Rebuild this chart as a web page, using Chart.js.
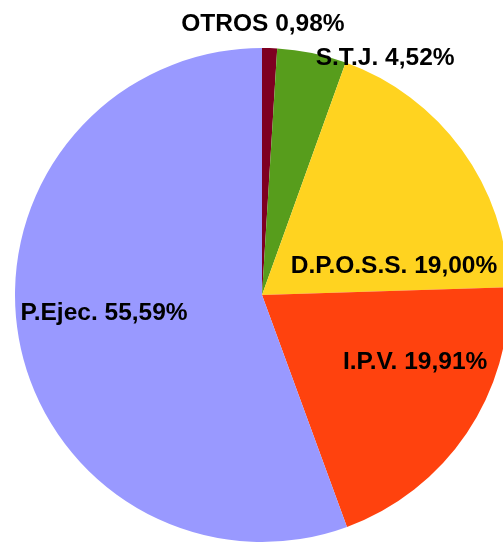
<!DOCTYPE html>
<html>
<head>
<meta charset="utf-8">
<script src="https://cdn.jsdelivr.net/npm/chart.js@4/dist/chart.umd.min.js"></script>
<style>
  html, body { margin: 0; padding: 0; background: #fff; overflow: hidden; }
  #wrap { width: 510px; height: 543px; }
</style>
</head>
<body>
<div id="wrap"><canvas id="pie"></canvas></div>
<script>
// values, clockwise from 12 o'clock
const labels = ['OTROS', 'S.T.J.', 'D.P.O.S.S.', 'I.P.V.', 'P.Ejec.'];
const shares = [0.98, 4.52, 19.00, 19.91, 55.59];
const colors = ['#7e0021', '#579d1c', '#ffd320', '#ff420e', '#9999ff'];

// where each label sits: angle from top (deg, clockwise) and radius fraction
const labelSpots = [[0.2, 1.10], [27.4, 1.083], [77.2, 0.548], [113.3, 0.675], [263.9, 0.643]];

const pctText = v => v.toFixed(2).replace('.', ',') + '%';

const sliceLabels = {
    id: 'sliceLabels',
    afterDatasetsDraw(chart) {
        const ctx = chart.ctx;
        const arcs = chart.getDatasetMeta(0).data;
        ctx.save();
        ctx.font = 'bold 24.5px "Liberation Sans", Arial, sans-serif';
        ctx.fillStyle = '#000';
        ctx.textAlign = 'center';
        ctx.textBaseline = 'middle';
        arcs.forEach((arc, i) => {
            const [deg, f] = labelSpots[i];
            const a = (deg - 90) * Math.PI / 180;
            const r = arc.outerRadius * f;
            ctx.fillText(labels[i] + ' ' + pctText(shares[i]), arc.x + Math.cos(a) * r, arc.y + Math.sin(a) * r + 1);
        });
        ctx.restore();
    }
};

new Chart(document.querySelector('#pie').getContext('2d'), {
    type: 'pie',
    data: {
        labels: labels,
        datasets: [{
            data: shares,
            backgroundColor: colors,
            borderWidth: 0
        }]
    },
    options: {
        responsive: true,
        maintainAspectRatio: false,
        animation: false,
        layout: { padding: { left: 15, right: 1, top: 48, bottom: 1 } },
        plugins: {
            legend: { display: false },
            tooltip: { enabled: false }
        }
    },
    plugins: [sliceLabels]
});
</script>
</body>
</html>
